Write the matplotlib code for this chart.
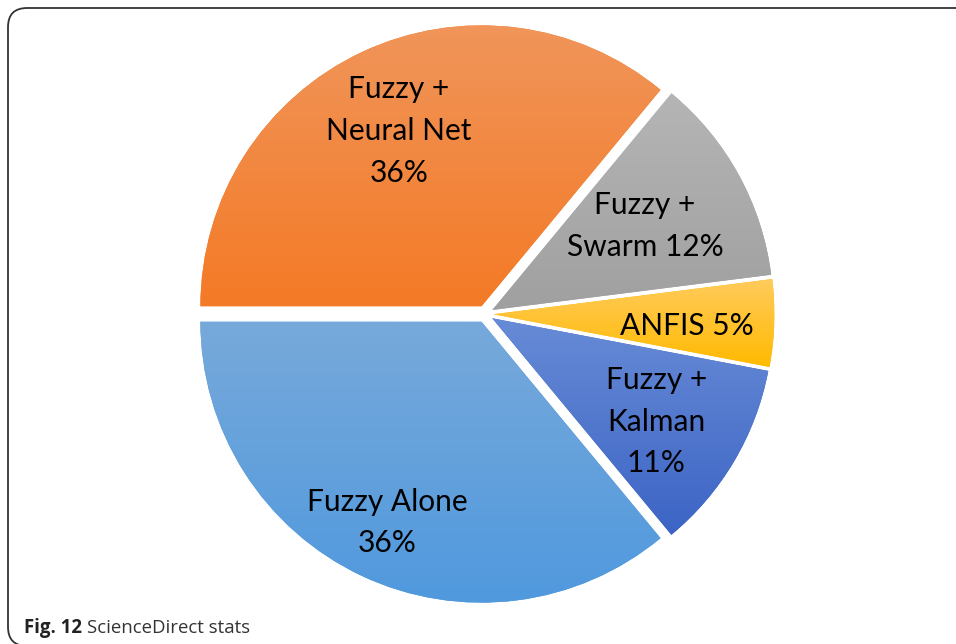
"""
ScienceDirect stats pie chart (Fig. 12)
"""
import numpy as np
import matplotlib.pyplot as plt
from matplotlib.colors import to_rgb
from matplotlib.patches import FancyBboxPatch

# Data
labels = ['Fuzzy +\nNeural Net\n36%', 'Fuzzy +\nSwarm 12%', 'ANFIS 5%',
          'Fuzzy +\nKalman\n11%', 'Fuzzy Alone\n36%']
shares = [36, 12, 5, 11, 36]

# Gradient colours (top, bottom) for each slice
top_colors = ['#F0955A', '#B5B5B5', '#FFCB5C', '#678BD6', '#77A9DA']
bottom_colors = ['#F47A26', '#A0A0A0', '#FFBA00', '#3C64C5', '#5099DE']

plt.rcParams['font.family'] = ['Lato', 'DejaVu Sans']

fig = plt.figure(figsize=(9.56, 6.44), dpi=100)

# Axes so that radius 1 ~ 281 px, centre at (485, 314) px from top-left
W, H = 956, 644
cx, cy, R = 485, 314, 281
half = 1.2 * R
ax = fig.add_axes([(cx - half) / W, (H - cy - half) / H, 2 * half / W, 2 * half / H])

wedges, texts = ax.pie(shares, startangle=180, counterclock=False,
                       explode=[0.03] * 5, wedgeprops=dict(linewidth=0))

# Vertical gradient inside each slice
t = np.linspace(0, 1, 256)[:, None]
for w, c0, c1 in zip(wedges, top_colors, bottom_colors):
    w.set_facecolor(c1)
    bb = w.get_path().get_extents()
    a, b = np.array(to_rgb(c0)), np.array(to_rgb(c1))
    grad = (a[None, :] * (1 - t) + b[None, :] * t)[:, None, :]
    im = ax.imshow(grad, extent=[bb.x0, bb.x1, bb.y0, bb.y1], origin='upper',
                   aspect='auto', interpolation='bilinear', zorder=2)
    im.set_clip_path(w)

# Labels (radius and small angle nudge per slice)
label_r = [0.72, 0.65, 0.72, 0.72, 0.82]
label_dang = [0, 0, -1.5, -1.5, 0]
for w, lab, r, da in zip(wedges, labels, label_r, label_dang):
    ang = np.deg2rad((w.theta1 + w.theta2) / 2 + da)
    ax.text(r * np.cos(ang), r * np.sin(ang), lab, ha='center', va='center',
            fontsize=21.5, color='black', linespacing=1.6, zorder=3)

ax.set_xlim(-1.2, 1.2)
ax.set_ylim(-1.2, 1.2)
ax.axis('off')

# Frame around the figure (open to the right and bottom)
frame = FancyBboxPatch((8 / W, -2 / H), 1.2, (H - 8 + 2) / H,
                       boxstyle='round,pad=0,rounding_size=0.02',
                       transform=fig.transFigure, fill=False,
                       edgecolor='#333333', linewidth=1.3,
                       mutation_aspect=W / H)
fig.patches.append(frame)

# Caption
cap = fig.text(24 / W, 1 - 633 / H, 'Fig. 12', fontsize=13.4, fontweight='bold',
               color='#222222', family=['Open Sans', 'DejaVu Sans'])
fig.canvas.draw()
ext = cap.get_window_extent()
fig.text((ext.x1 + 5) / W, 1 - 633 / H, 'ScienceDirect stats', fontsize=13.4,
         color='#333333', family=['Open Sans', 'DejaVu Sans'])

fig.savefig('out.png', dpi=100, facecolor='white')
